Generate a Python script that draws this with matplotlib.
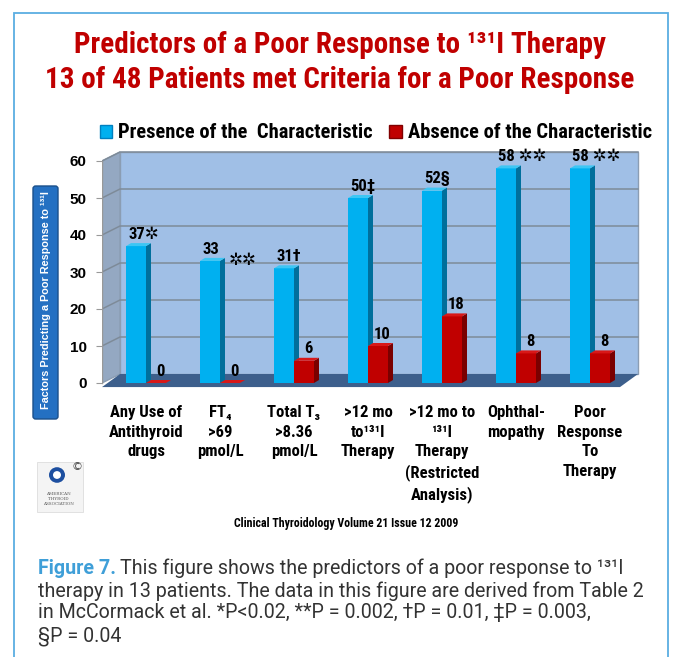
import matplotlib
matplotlib.use("Agg")
import matplotlib.pyplot as plt
from matplotlib.patches import Polygon, Rectangle, FancyBboxPatch, Circle, Patch
import numpy as np

# data
categories = ["Any Use of\nAntithyroid\ndrugs",
              "FT\u2084\n>69\npmol/L",
              "Total T\u2083\n>8.36\npmol/L",
              ">12 mo\nto\u00b9\u00b3\u00b9I\nTherapy",
              ">12 mo to\n\u00b9\u00b3\u00b9I\nTherapy\n(Restricted\nAnalysis)",
              "Ophthal-\nmopathy",
              "Poor\nResponse\nTo\nTherapy"]
presence = [37, 33, 31, 50, 52, 58, 58]
absence = [0, 0, 6, 10, 18, 8, 8]
presence_notes = ["\u2732", "", "\u2020", "\u2021", "\u00a7", " \u2732\u2732", " \u2732\u2732"]
yticks = [0, 10, 20, 30, 40, 50, 60]

NARROW = ["Roboto Condensed", "DejaVu Sans"]
SANS = ["Liberation Sans", "DejaVu Sans"]
CAPF = ["Roboto", "DejaVu Sans"]

W, H = 674, 657
fig = plt.figure(figsize=(W / 100, H / 100), dpi=100)


def fx(px):
    return px / W


def fy(py):
    return 1 - py / H


# page frame
fig.patches.append(Rectangle((fx(14), fy(700)), fx(654), 687 / H, transform=fig.transFigure,
                             fill=False, ec="#5aaee2", lw=1.3))

# plot area; x: group index, y: value
ax = fig.add_axes([fx(102), fy(388), (640 - 102) / W, (388 - 150) / H])
px_x, px_y = 74.0, 3.7
ax.set_xlim((102 - 146) / px_x, (640 - 146) / px_x)
ax.set_ylim((383 - 388) / px_y, (383 - 150) / px_y)
for s in ax.spines.values():
    s.set_visible(False)
ax.set_xticks([])
ax.patch.set_alpha(0)

DX, DY = 18 / px_x, 9 / px_y          # wall depth
x0 = (102 - 146) / px_x
x1 = (620 - 146) / px_x
top = yticks[-1]

ax.add_patch(Polygon([(x0 + DX, DY), (x1 + DX, DY), (x1 + DX, top + DY), (x0 + DX, top + DY)],
                     closed=True, fc="#a0bfe6", ec="#8b9db3", lw=1, zorder=0))
ax.add_patch(Polygon([(x0, 0), (x0 + DX, DY), (x0 + DX, top + DY), (x0, top)],
                     closed=True, fc="#94a8c2", ec="#8b9db3", lw=1, zorder=0))
for v in yticks[1:]:
    ax.plot([x0, x0 + DX, x1 + DX], [v, v + DY, v + DY], color="#7e8b99", lw=1.1, zorder=1)
ax.add_patch(Polygon([(x0, -1.1), (x1, -1.1), (x1 + DX, DY), (x0 + DX, DY)],
                     closed=True, fc="#3d5f8c", ec="none", zorder=1))
ax.plot([x0, x0], [0, top], color="#999999", lw=1, zorder=1)

ax.set_yticks(yticks)
ax.set_yticklabels([str(t) for t in yticks], fontsize=11, fontweight="bold", family=SANS)
ax.tick_params(axis="y", length=4, pad=7, color="#999999")

# bars with faux depth
bw = 20 / px_x
bdx, bdy = 5 / px_x, 3 / px_y
x = np.arange(len(categories))


def depth(bars, side, topc):
    for b in bars:
        l, h, w = b.get_x(), b.get_height(), b.get_width()
        r = l + w
        ax.add_patch(Polygon([(r, 0), (r + bdx, bdy), (r + bdx, h + bdy), (r, h)],
                             closed=True, fc=side, ec="none", zorder=b.get_zorder()))
        ax.add_patch(Polygon([(l, h), (r, h), (r + bdx, h + bdy), (l + bdx, h + bdy)],
                             closed=True, fc=topc, ec="none", zorder=b.get_zorder()))


bb = ax.bar(x - bw / 2, presence, width=bw, color="#00b0f0", zorder=3)
depth(bb, "#006f9c", "#3cc6f4")
rb = ax.bar(x + bw / 2, absence, width=bw, color="#c00000", zorder=4)
depth(rb, "#7a0000", "#d81818")

lab = dict(fontsize=12, fontweight="bold", family=NARROW, zorder=6)
for i, (v, note) in enumerate(zip(presence, presence_notes)):
    ax.text(i - bw + 0.03, v + 3.2, f"{v}{note}", ha="left", va="center", **lab)
ax.text(1 + bw + 0.03, presence[1] + 0.2, "\u2732\u2732", ha="center", va="center", **lab)
for i, v in enumerate(absence):
    ax.text(i + bw / 2 + 0.06, v + 3.2, f"{v}", ha="center", va="center", **lab)

for i, c in enumerate(categories):
    ax.text(i, (383 - 405) / px_y, c, ha="center", va="top", fontsize=12, fontweight="bold",
            family=NARROW, linespacing=1.38, clip_on=False)

# legend
fig.legend(handles=[Patch(fc="#00b0f0", ec="#0080c0"), Patch(fc="#c00000", ec="#800000")],
           labels=["Presence of the  Characteristic", "Absence of the Characteristic"],
           loc="center", bbox_to_anchor=(fx(376), fy(133)), ncol=2, frameon=False,
           handlelength=0.6, handleheight=0.6, handletextpad=0.3, columnspacing=0.8,
           prop=dict(family=NARROW, weight="bold", size=14.8))

# title
fig.text(fx(340), fy(45), "Predictors of a Poor Response to \u00b9\u00b3\u00b9I Therapy",
         ha="center", va="center", color="#c00000", fontsize=21, fontweight="bold", family=NARROW)
fig.text(fx(340), fy(80), "13 of 48 Patients met Criteria for a Poor Response",
         ha="center", va="center", color="#c00000", fontsize=21, fontweight="bold", family=NARROW)

# y label box
fig.patches.append(FancyBboxPatch((fx(33), fy(419)), fx(25), 233 / H, transform=fig.transFigure,
                                  boxstyle="round,pad=0,rounding_size=0.004", fc="#2470c2",
                                  ec="#1a4f8a", lw=1))
fig.text(fx(45.5), fy(300), "Factors Predicting a Poor Response to \u00b9\u00b3\u00b9I", rotation=90,
         ha="center", va="center", color="white", fontsize=7.8, fontweight="bold", family=SANS)

# logo
fig.patches.append(Rectangle((fx(37), fy(512)), fx(46), 50 / H, transform=fig.transFigure,
                             fc="#f4f4f4", ec="#dddddd", lw=0.6))
fig.patches.append(Circle((fx(57), fy(475)), 8 / W, transform=fig.transFigure, fc="#1d4fa0", ec="none"))
fig.patches.append(Circle((fx(57), fy(475)), 4 / W, transform=fig.transFigure, fc="white", ec="none"))
fig.text(fx(77), fy(467), "\u00a9", ha="center", va="center", fontsize=8, color="#444444")
fig.text(fx(58), fy(499), "AMERICAN\nTHYROID\nASSOCIATION", ha="center", va="center",
         fontsize=3, color="#555555", family="DejaVu Serif", linespacing=1.2)

fig.text(fx(346), fy(523), "Clinical Thyroidology Volume 21 Issue 12 2009", ha="center", va="center",
         fontsize=8.6, fontweight="bold", family=NARROW)

# caption, size fitted so the second line spans the same width as the original
cap_lines = ["This figure shows the predictors of a poor response to \u00b9\u00b3\u00b9I",
             "therapy in 13 patients. The data in this figure are derived from Table 2",
             "in McCormack et al. *P<0.02, **P = 0.002, \u2020P = 0.01, \u2021P = 0.003,",
             "\u00a7P = 0.04"]
cap = dict(fontsize=13, color="#333333", family=CAPF, va="center", ha="left")
probe = fig.text(fx(38), fy(591), cap_lines[1], **cap)
fig.canvas.draw()
size = 13 * 607 / probe.get_window_extent().width
probe.remove()
cap["fontsize"] = size

t = fig.text(fx(38), fy(568), "Figure 7.", fontweight="bold", **dict(cap, color="#3f9fd8"))
fig.canvas.draw()
fig.text(t.get_window_extent().x1 / W + fx(4), fy(568), cap_lines[0], **cap)
for k, line in enumerate(cap_lines[1:]):
    fig.text(fx(38), fy([591, 613, 636][k]), line, **cap)

fig.savefig("out.png", dpi=100, facecolor="white")
